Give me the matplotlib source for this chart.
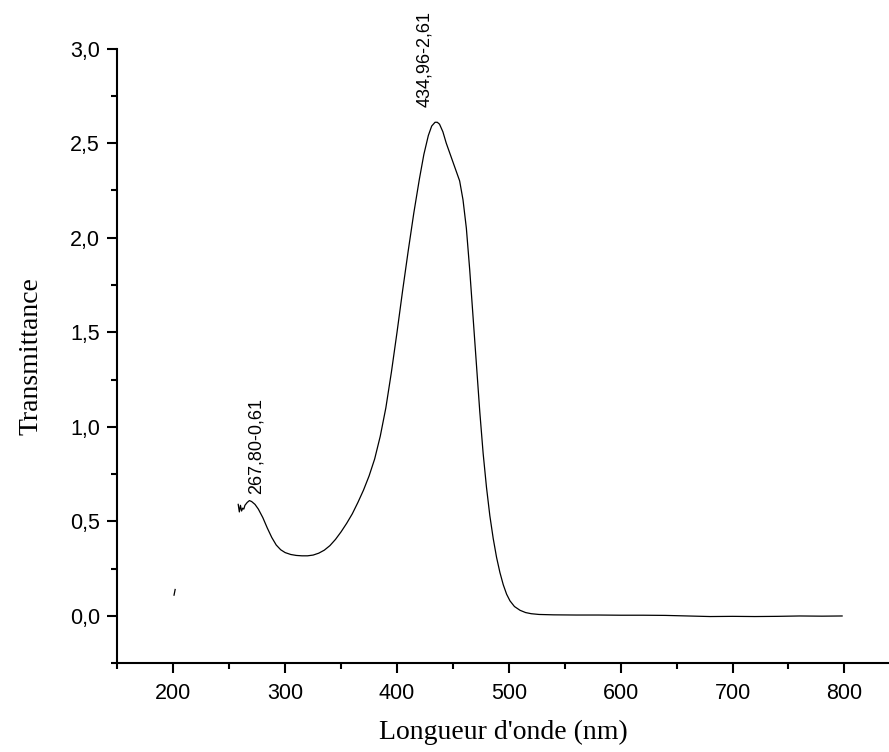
import numpy as np
import matplotlib.pyplot as plt
from matplotlib.ticker import MultipleLocator, FuncFormatter

# Data
wl = [258, 259, 260, 261, 262, 263, 264, 266, 268, 270, 273, 276, 280, 284,
      288, 292, 296, 300, 305, 310, 315, 320, 325, 330, 335, 340, 345, 350,
      355, 360, 365, 370, 375, 380, 385, 390, 395, 400, 405, 410, 415, 420,
      424, 428, 431, 434, 436, 438, 441, 444, 447, 450, 453, 456, 459, 462,
      465, 468, 471, 474, 477, 480, 483, 486, 489, 492, 495, 498, 501, 505,
      510, 515, 520, 527, 540, 560, 580, 600, 620, 640, 660, 680, 700, 720,
      740, 760, 780, 798]
tr = [0.59, 0.55, 0.585, 0.555, 0.57, 0.565, 0.585, 0.60, 0.61, 0.605,
      0.59, 0.565, 0.52, 0.465, 0.415, 0.375, 0.35, 0.335, 0.325, 0.32,
      0.318, 0.318, 0.322, 0.332, 0.348, 0.372, 0.405, 0.445, 0.49, 0.54,
      0.6, 0.665, 0.74, 0.83, 0.95, 1.1, 1.29, 1.5, 1.72, 1.93, 2.13, 2.31,
      2.44, 2.54, 2.59, 2.61, 2.61, 2.6, 2.56, 2.5, 2.45, 2.4, 2.35, 2.3,
      2.2, 2.05, 1.83, 1.58, 1.33, 1.08, 0.86, 0.68, 0.53, 0.41, 0.31, 0.23,
      0.165, 0.115, 0.08, 0.05, 0.03, 0.018, 0.012, 0.008, 0.006, 0.005,
      0.005, 0.004, 0.004, 0.003, 0.0, -0.003, -0.002, -0.003, -0.002, 0.0,
      -0.001, 0.0]

# stray point near 200 nm
stray_wl = [200.6, 201.6]
stray_tr = [0.11, 0.14]

peaks_wl = [267.80, 434.96]
peaks_tr = [0.61, 2.61]
peak_labels = ["267,80-0,61", "434,96-2,61"]
label_dx = [5, -8]
label_dy = [5, 11]

fig = plt.figure(figsize=(8.89, 7.52), dpi=100)
ax = fig.add_axes([0.1321, 0.118, 0.868, 0.8175])

ax.plot(wl, tr, color='black', linewidth=0.9)
ax.plot(stray_wl, stray_tr, color='black', linewidth=0.9)

for px, py, lab, dx, dy in zip(peaks_wl, peaks_tr, peak_labels, label_dx, label_dy):
    ax.annotate(lab, (px, py), xytext=(dx, dy), textcoords='offset points',
                rotation=90, ha='center', va='bottom', fontsize=13,
                family='Liberation Sans')

ax.set_xlim(150, 840)
ax.set_ylim(-0.25, 3.0)
ax.xaxis.set_major_locator(MultipleLocator(100))
ax.xaxis.set_minor_locator(MultipleLocator(50))
ax.yaxis.set_major_locator(MultipleLocator(0.5))
ax.yaxis.set_minor_locator(MultipleLocator(0.25))
ax.yaxis.set_major_formatter(FuncFormatter(lambda v, p: ("%.1f" % v).replace('.', ',')))

for s in ['top', 'right']:
    ax.spines[s].set_visible(False)
for s in ['left', 'bottom']:
    ax.spines[s].set_linewidth(1.5)

ax.tick_params(which='major', direction='out', length=7.5, width=1.5,
               labelsize=15.5, pad=5)
ax.tick_params(which='minor', direction='out', length=4.5, width=1.5)
ax.tick_params(axis='x', which='major', pad=7)
for lab in ax.get_xticklabels() + ax.get_yticklabels():
    lab.set_family('Liberation Sans')

ax.set_xlabel("Longueur d'onde (nm)", family='Liberation Serif', fontsize=20,
              labelpad=11)
ax.set_ylabel("Transmittance", family='Liberation Serif', fontsize=20,
              labelpad=19)

fig.savefig("out.png", dpi=100)
